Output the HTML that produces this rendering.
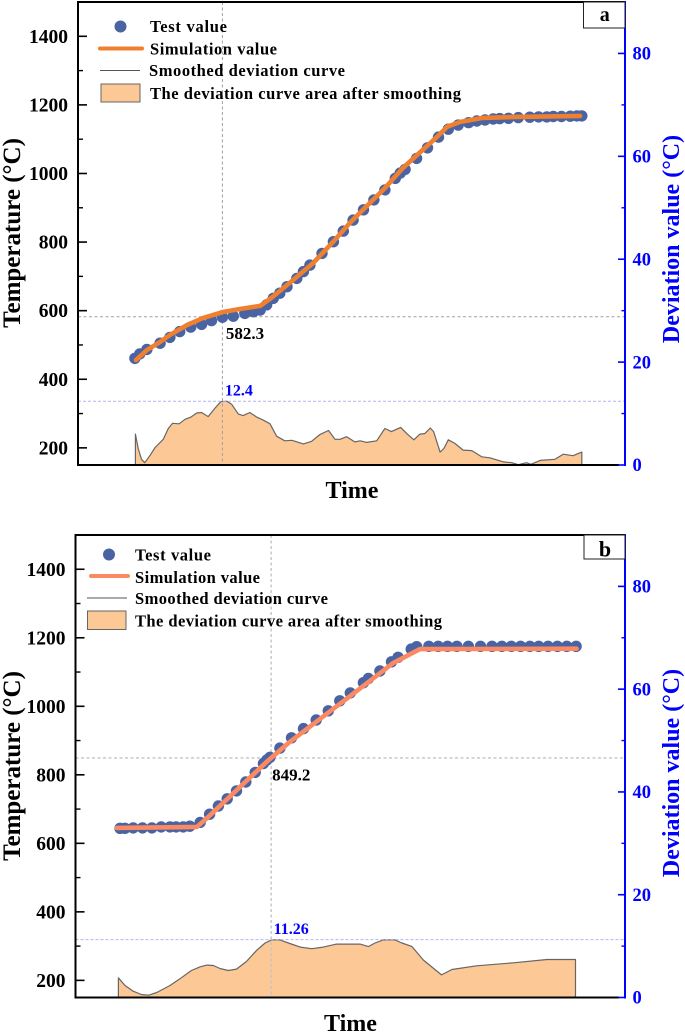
<!DOCTYPE html>
<html lang="en">
<head>
<meta charset="utf-8">
<title>Temperature and deviation charts</title>
<style>
html,body{margin:0;padding:0;background:#fff;width:685px;height:1033px;overflow:hidden}
svg{display:block}
text{font-family:"Liberation Serif",serif;font-weight:bold}
</style>
</head>
<body>
<svg id="figure" xmlns="http://www.w3.org/2000/svg" width="685" height="1033" viewBox="0 0 685 1033">
  <g id="panel-a"></g>
  <g id="panel-b"></g>

  <g>
    <circle cx="120.5" cy="26.5" r="6" fill="#4a63a3"/>
    <line x1="100" y1="48.5" x2="142" y2="48.5" stroke="#ef8030" stroke-width="4" stroke-linecap="round"/>
    <line x1="100" y1="70.5" x2="140" y2="70.5" stroke="#555" stroke-width="1"/>
    <rect x="101" y="84" width="39" height="18" fill="#fcc896" stroke="#666" stroke-width="1"/>
    <text x="150" y="32" font-size="16.5" textLength="77" lengthAdjust="spacing">Test value</text>
    <text x="150" y="54.5" font-size="16.5" textLength="127" lengthAdjust="spacing">Simulation value</text>
    <text x="149" y="76" font-size="16.5" textLength="196" lengthAdjust="spacing">Smoothed deviation curve</text>
    <text x="150" y="99" font-size="16.5" textLength="311" lengthAdjust="spacing">The deviation curve area after smoothing</text>
  </g>

  <g>
    <circle cx="109" cy="554.5" r="6" fill="#4a63a3"/>
    <line x1="91" y1="576" x2="128" y2="576" stroke="#fb8a62" stroke-width="4" stroke-linecap="round"/>
    <line x1="87" y1="598" x2="127" y2="598" stroke="#555" stroke-width="1"/>
    <rect x="87.5" y="611" width="38.5" height="18.5" fill="#fcc896" stroke="#666" stroke-width="1"/>
    <text x="135" y="560.7" font-size="16.5" textLength="76" lengthAdjust="spacing">Test value</text>
    <text x="135" y="583" font-size="16.5" textLength="125" lengthAdjust="spacing">Simulation value</text>
    <text x="135" y="604" font-size="16.5" textLength="193" lengthAdjust="spacing">Smoothed deviation curve</text>
    <text x="135" y="626.7" font-size="16.5" textLength="307" lengthAdjust="spacing">The deviation curve area after smoothing</text>
  </g>

  <text transform="translate(20,233) rotate(-90)" text-anchor="middle" font-size="25">Temperature (°C)</text>
  <text transform="translate(679,239) rotate(-90)" text-anchor="middle" font-size="24" fill="#0000ff">Deviation value (°C)</text>
  <text x="352" y="498" text-anchor="middle" font-size="24">Time</text>
  <text transform="translate(20,766) rotate(-90)" text-anchor="middle" font-size="25">Temperature (°C)</text>
  <text transform="translate(679,773) rotate(-90)" text-anchor="middle" font-size="24" fill="#0000ff">Deviation value (°C)</text>
  <text x="350.5" y="1031" text-anchor="middle" font-size="24">Time</text>
</svg>

<script>
// Shared tick labels
const tempTicks = [200, 400, 600, 800, 1000, 1200, 1400];
const tempMinorTicks = [300, 500, 700, 900, 1100, 1300];
const devTicks = [0, 20, 40, 60, 80];
const devMinorTicks = [10, 30, 50, 70];

// Panel a values
const aTestTime = [10.4,11.3,12.6,15.0,16.8,18.6,20.6,22.6,24.4,26.4,28.4,30.5,32.1,33.3,34.5,35.7,36.9,38.2,40.0,41.2,42.4,44.6,46.7,48.5,50.3,52.2,54.1,56.1,58.0,58.9,59.8,61.9,63.9,65.9,67.7,69.5,71.4,72.9,74.4,75.9,77.1,78.7,80.5,82.6,84.2,85.7,86.9,88.4,90.0,91.2,92.1];
const aTestTemp = [461,474,487,505,522,539,552,560,571,581,584,592,597,602,617,636,651,670,694,714,733,767,801,832,864,894,923,952,986,1001,1012,1044,1075,1106,1129,1141,1148,1153,1156,1159,1160,1161,1163,1164,1165,1165,1166,1166,1167,1168,1168];
const aSimTime = [10.6,12.6,15.0,16.8,19.9,22.9,26.5,29.6,33.3,35.6,39.3,43.0,46.6,49.7,52.1,55.8,59.4,62.0,65.6,67.5,69.8,74.0,80.3,91.8];
const aSimTemp = [456,485,509,529,558,579,596,605,614,640,689,739,800,856,894,952,1016,1054,1106,1136,1150,1162,1165,1168];
const aDevTime = [10.5,11.0,11.6,12.2,13.2,14.1,15.6,16.5,17.3,18.5,19.6,20.6,21.7,22.6,23.8,25.0,26.1,27.2,28.1,29.3,30.2,31.4,32.7,33.9,35.1,36.3,37.8,39.1,41.2,42.7,44.2,45.8,47.0,47.9,49.1,50.6,51.6,52.8,54.6,56.1,57.3,59.0,60.1,61.4,62.5,63.4,64.4,65.0,66.2,66.9,67.7,68.9,70.4,72.0,73.8,75.3,77.8,79.3,80.5,82.0,82.8,84.5,87.2,88.7,90.5,92.1];
const aDevValue = [6.0,3.2,1.1,0.45,1.9,3.4,5.0,7.1,8.1,8.0,8.9,9.3,10.1,10.2,9.4,11.0,12.3,12.4,11.8,9.9,9.6,10.2,9.3,8.7,8.0,5.6,4.7,4.8,4.1,4.6,5.9,6.7,5.0,5.0,5.5,4.5,4.7,4.4,4.7,7.1,6.5,7.3,6.1,4.9,6.0,6.1,7.2,6.5,2.5,3.2,4.9,4.2,2.9,2.8,1.6,1.4,0.6,0.45,0.06,0.45,0.13,0.9,1.1,2.1,1.8,2.5];
const aPeakTime = [26.4];
const aPeakTemp = [582.3];
const aPeakDev = [12.4];

// Panel b values
const bTestTime = [8.1,9.0,10.5,12.2,13.9,15.6,17.2,18.3,19.6,20.8,22.7,24.4,26.0,27.6,29.3,31.0,32.7,34.2,34.8,35.4,37.2,39.3,41.5,43.8,46.0,48.1,50.0,52.4,53.3,55.4,57.5,58.7,61.1,62.1,64.3,66.0,67.7,69.4,71.5,73.7,75.8,77.6,79.3,81.0,82.7,84.3,86.0,87.7,89.4,91.1];
const bTestTemp = [644,644,645,645,645,648,648,648,648,650,661,685,709,730,753,779,807,833,843,851,878,908,935,960,987,1016,1039,1069,1081,1103,1130,1143,1167,1174,1175,1175,1175,1175,1175,1175,1175,1175,1175,1175,1175,1175,1175,1175,1175,1175];
const bSimTime = [7.5,22.1,23.9,34.8,39.0,49.4,57.8,62.7,91.2];
const bSimTemp = [645,648,673,838,896,1023,1126,1167,1168];
const bDevTime = [7.8,9.0,10.5,12.0,13.3,14.8,17.2,19.0,21.1,22.7,23.9,25.1,26.3,27.8,29.3,31.1,33.0,34.5,35.7,37.2,39.0,40.9,43.0,45.1,47.5,49.4,51.8,53.3,54.5,56.0,58.1,59.4,61.2,63.3,66.6,68.5,73.0,79.7,85.8,91.0];
const bDevValue = [3.83,2.34,1.23,0.58,0.45,0.97,2.34,3.64,5.26,5.97,6.3,6.23,5.65,5.26,5.52,7.0,9.2,10.6,11.23,11.2,10.5,9.8,9.5,9.8,10.4,10.4,10.4,9.9,10.6,11.2,11.23,10.6,9.94,7.3,4.4,5.45,6.17,6.75,7.4,7.4];
const bPeakTime = [35.6];
const bPeakTemp = [849.2];
const bPeakDev = [11.26];

const SVGNS = 'http://www.w3.org/2000/svg';

function mk(parent, tag, props) {
  const el = document.createElementNS(SVGNS, tag);
  for (const k in props) el.setAttribute(k, props[k]);
  parent.appendChild(el);
  return el;
}

function drawPanel(p) {
  const g = document.getElementById(p.id);
  const sx = t => p.left + (t / 100) * (p.right - p.left);
  const sy = v => p.bottom - ((v - 150) / 1350) * (p.bottom - p.top);
  const sd = v => p.bottom - (v / 90) * (p.bottom - p.top);

  // deviation area
  const devPts = p.devTime.map((t, i) => sx(t).toFixed(1) + ',' + sd(p.devValue[i]).toFixed(1));
  const first = sx(p.devTime[0]).toFixed(1);
  const last = sx(p.devTime[p.devTime.length - 1]).toFixed(1);
  const base = sd(0).toFixed(1);
  const area = mk(g, 'polygon', {points: first + ',' + base + ' ' + devPts.join(' ') + ' ' + last + ',' + base, fill: '#fcc896', stroke: 'none'});
  
  
  const devLine = mk(g, 'polyline', {points: first + ',' + base + ' ' + devPts.join(' ') + ' ' + last + ',' + base, fill: 'none', stroke: '#666', 'stroke-width': 1.2, 'stroke-linejoin': 'round'});
  
  

  // guides
  const gv = mk(g, 'line', {x1: sx(p.peakTime[0]), x2: sx(p.peakTime[0]), y1: p.top, y2: p.bottom, stroke: p.guideColor, 'stroke-width': p.guideWidth, 'stroke-dasharray': '3 2.5'});
  
  
  const gh = mk(g, 'line', {x1: p.left, x2: p.right, y1: sy(p.peakTemp[0]), y2: sy(p.peakTemp[0]), stroke: p.guideColor, 'stroke-width': p.guideWidth, 'stroke-dasharray': '3 2.5'});
  
  
  const gd = mk(g, 'line', {x1: p.left, x2: p.right, y1: sd(p.peakDev[0]), y2: sd(p.peakDev[0]), stroke: '#b4b4f0', 'stroke-width': 1, 'stroke-dasharray': '3 2'});
  
  

  // test value points
  p.testTime.forEach((t, i) => {
    const c = mk(g, 'circle', {cx: sx(t).toFixed(1), cy: sy(p.testTemp[i]).toFixed(1), r: 5.7, fill: '#4a63a3'});
    
    
  });

  // simulation line
  const sim = mk(g, 'polyline', {points: p.simTime.map((t, i) => sx(t).toFixed(1) + ',' + sy(p.simTemp[i]).toFixed(1)).join(' '), fill: 'none', stroke: p.simColor, 'stroke-width': 4.6, 'stroke-linecap': 'round', 'stroke-linejoin': 'round'});
  
  

  // spines
  const sl = mk(g, 'line', {x1: p.left, x2: p.left, y1: p.top - 1, y2: p.bottom + 1, stroke: '#000', 'stroke-width': 2});
  
  
  const st = mk(g, 'line', {x1: p.left, x2: p.right, y1: p.top, y2: p.top, stroke: '#000', 'stroke-width': 2});
  
  
  const sb = mk(g, 'line', {x1: p.left, x2: p.right - 6, y1: p.bottom, y2: p.bottom, stroke: '#000', 'stroke-width': 2});
  
  
  const sr = mk(g, 'line', {x1: p.right, x2: p.right, y1: p.top - 1, y2: p.bottom + 1, stroke: '#0000ff', 'stroke-width': 2});
  
  

  // left ticks
  tempTicks.forEach(v => {
    const tk = mk(g, 'line', {x1: p.left, x2: p.left + 9, y1: sy(v), y2: sy(v), stroke: '#000', 'stroke-width': 1.6});
    
    
    const lb = mk(g, 'text', {x: p.leftLabel, y: sy(v) + 6.5, 'text-anchor': 'end', 'font-size': 19.5});
    lb.textContent = v;
    
    
  });
  tempMinorTicks.forEach(v => {
    const tk = mk(g, 'line', {x1: p.left, x2: p.left + 5, y1: sy(v), y2: sy(v), stroke: '#000', 'stroke-width': 1.4});
    
    
  });

  // right ticks
  devTicks.forEach(v => {
    const tk = mk(g, 'line', {x1: p.right, x2: p.right - 7, y1: sd(v), y2: sd(v), stroke: '#0000ff', 'stroke-width': 1.6});
    
    
    const lb = mk(g, 'text', {x: 632.5, y: sd(v) + 6.2, 'font-size': 18.5, fill: '#0000ff'});
    lb.textContent = v;
    
    
  });
  devMinorTicks.forEach(v => {
    const tk = mk(g, 'line', {x1: p.right, x2: p.right - 3.5, y1: sd(v), y2: sd(v), stroke: '#0000ff', 'stroke-width': 1.4});
    
    
  });

  // annotations
  const a1 = mk(g, 'text', {x: sx(p.peakTime[0]) + p.annoOffset, y: sy(p.peakTemp[0]) + 22.5, 'font-size': 17});
  a1.textContent = p.peakTemp[0].toFixed(1);
  
  
  const a2 = mk(g, 'text', {x: sx(p.peakTime[0]) + 2.5, y: sd(p.peakDev[0]) - 5.8, 'font-size': 16, fill: '#0000ff'});
  a2.textContent = String(p.peakDev[0]);
  
  

  // panel label
  const box = mk(g, 'rect', {x: p.boxX, y: p.top, width: p.right - p.boxX, height: p.boxH, fill: '#fff', stroke: '#222', 'stroke-width': 1});
  
  
  const bl = mk(g, 'text', {x: (p.boxX + p.right) / 2 + 0.5, y: p.top + p.boxH - p.labelOffset, 'text-anchor': 'middle', 'font-size': p.labelSize});
  bl.textContent = p.label;
  
  
}

drawPanel({id: 'panel-a', left: 78, right: 625, top: 2, bottom: 465, leftLabel: 68,
  testTime: aTestTime, testTemp: aTestTemp, simTime: aSimTime, simTemp: aSimTemp,
  devTime: aDevTime, devValue: aDevValue, peakTime: aPeakTime, peakTemp: aPeakTemp, peakDev: aPeakDev,
  simColor: '#ef8030', guideColor: '#a0a0a0', guideWidth: 1, annoOffset: 3.5,
  boxX: 583.5, boxH: 26, label: 'a', labelSize: 20, labelOffset: 7});
drawPanel({id: 'panel-b', left: 75.5, right: 625, top: 535, bottom: 997.5, leftLabel: 65.5,
  testTime: bTestTime, testTemp: bTestTemp, simTime: bSimTime, simTemp: bSimTemp,
  devTime: bDevTime, devValue: bDevValue, peakTime: bPeakTime, peakTemp: bPeakTemp, peakDev: bPeakDev,
  simColor: '#fb8a62', guideColor: '#c4c4c4', guideWidth: 1.4, annoOffset: 1,
  boxX: 584, boxH: 24, label: 'b', labelSize: 22, labelOffset: 2.5});
</script>
</body>
</html>
